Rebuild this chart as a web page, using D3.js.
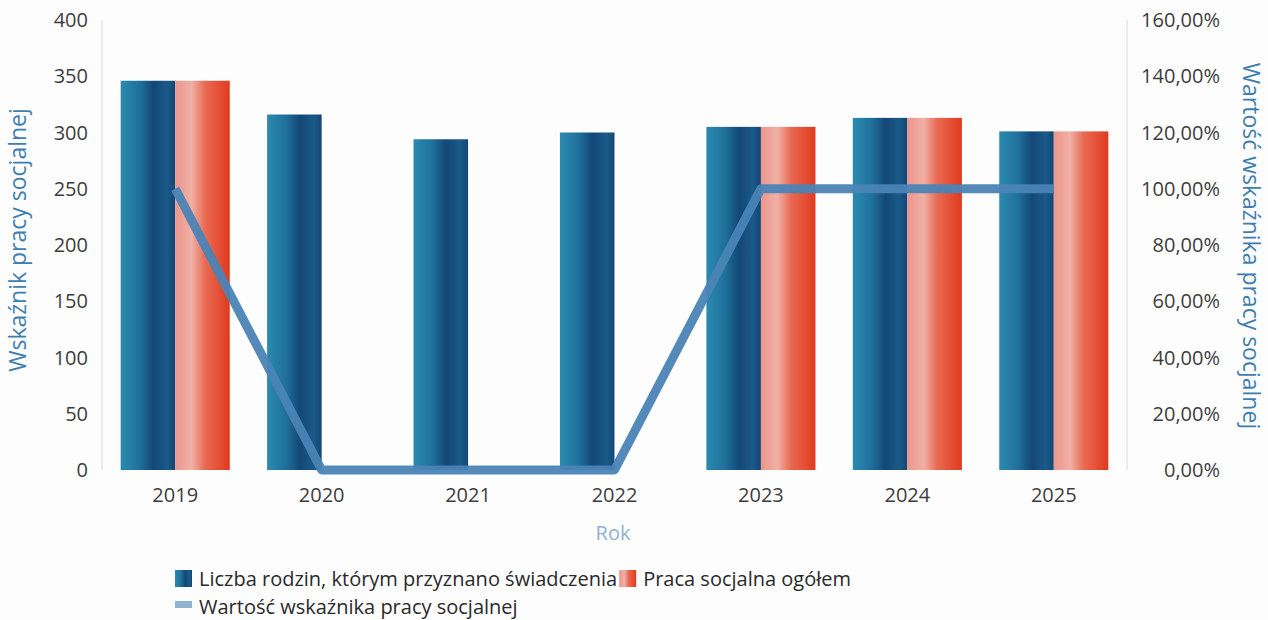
<!DOCTYPE html>
<html>
<head>
<meta charset="utf-8">
<script src="https://cdn.jsdelivr.net/npm/d3@7"></script>
<style>
  html, body { margin: 0; padding: 0; background: #fdfdfe; }
  svg { display: block; font-family: "Open Sans", "Noto Sans", sans-serif; }
</style>
</head>
<body>
<svg id="chart" width="1268" height="620"></svg>
<script>
// --- dane ---
const years = ["2019","2020","2021","2022","2023","2024","2025"];
const rodziny = [346, 316, 294, 300, 305, 313, 301];
const praca = [346, 0, 0, 0, 305, 313, 301];
const wskaznik = [1.0, 0, 0, 0, 1.0, 1.0, 1.0];
const leftTicks = [0, 50, 100, 150, 200, 250, 300, 350, 400];
const rightTicks = [0, 0.2, 0.4, 0.6, 0.8, 1.0, 1.2, 1.4, 1.6];
const seriesNames = ["Liczba rodzin, którym przyznano świadczenia", "Praca socjalna ogółem", "Wartość wskaźnika pracy socjalnej"];

const svg = d3.select("#chart");
const m = { left: 102, right: 1127, top: 20, bottom: 470 };

const x = d3.scaleBand().domain(years).range([m.left, m.right]).paddingInner(0.255).paddingOuter(0.1275);
const y = d3.scaleLinear().domain([0, 400]).range([m.bottom, m.top]);
const y2 = d3.scaleLinear().domain([0, 1.6]).range([m.bottom, m.top]);
const bw = x.bandwidth() / 2;

// gradienty (efekt "walca" z oryginału)
const defs = svg.append("defs");
const gBlue = defs.append("linearGradient").attr("id", "gBlue");
[["0%", "#2b8ab0"], ["35%", "#1f709a"], ["60%", "#134777"], ["85%", "#1a5a88"], ["100%", "#134676"]]
  .forEach(([o, c]) => gBlue.append("stop").attr("offset", o).attr("stop-color", c));
const gRed = defs.append("linearGradient").attr("id", "gRed");
[["0%", "#ec968b"], ["30%", "#f0b0a6"], ["55%", "#e86a52"], ["100%", "#e03a1e"]]
  .forEach(([o, c]) => gRed.append("stop").attr("offset", o).attr("stop-color", c));

// osie pionowe (delikatne linie)
[m.left, m.right].forEach(xx => svg.append("line")
  .attr("x1", xx).attr("x2", xx).attr("y1", m.top).attr("y2", m.bottom)
  .attr("stroke", "#d6dbe2").attr("stroke-width", 1));

// słupki
svg.append("g").selectAll("rect").data(years).join("rect")
  .attr("x", d => x(d)).attr("width", bw)
  .attr("y", (d, i) => y(rodziny[i])).attr("height", (d, i) => y(0) - y(rodziny[i]))
  .attr("fill", "url(#gBlue)");
svg.append("g").selectAll("rect").data(years).join("rect")
  .attr("x", d => x(d) + bw).attr("width", bw)
  .attr("y", (d, i) => y(praca[i])).attr("height", (d, i) => y(0) - y(praca[i]))
  .attr("fill", "url(#gRed)");

// linia wskaźnika
const line = d3.line().x((d, i) => x(years[i]) + bw).y(d => y2(d));
svg.append("path").datum(wskaznik).attr("d", line)
  .attr("fill", "none").attr("stroke", "#4a84b6").attr("stroke-width", 9)
  .attr("stroke-linejoin", "round").attr("stroke-opacity", 0.95);

// etykiety osi lewej
svg.append("g").selectAll("text").data(leftTicks).join("text")
  .attr("x", 88).attr("y", d => y(d)).attr("dy", "0.35em")
  .attr("text-anchor", "end").attr("font-size", 20).attr("fill", "#3d3d3d")
  .text(d => d);

// etykiety osi prawej
const fmt = d => d3.format(".2f")(d * 100).replace(".", ",") + "%";
svg.append("g").selectAll("text").data(rightTicks).join("text")
  .attr("x", 1220).attr("y", d => y2(d)).attr("dy", "0.35em")
  .attr("text-anchor", "end").attr("font-size", 20).attr("fill", "#3d3d3d")
  .text(fmt);

// etykiety lat
svg.append("g").selectAll("text").data(years).join("text")
  .attr("x", d => x(d) + bw).attr("y", 502)
  .attr("text-anchor", "middle").attr("font-size", 20).attr("fill", "#3d3d3d")
  .text(d => d);

// tytuły osi
svg.append("text").attr("transform", "translate(26,240) rotate(-90)")
  .attr("text-anchor", "middle").attr("font-size", 23).attr("fill", "#3f7fb0")
  .text("Wskaźnik pracy socjalnej");
svg.append("text").attr("transform", "translate(1243,246) rotate(90)")
  .attr("text-anchor", "middle").attr("font-size", 23).attr("fill", "#3f7fb0")
  .text("Wartość wskaźnika pracy socjalnej");
svg.append("text").attr("x", 613).attr("y", 540)
  .attr("text-anchor", "middle").attr("font-size", 20).attr("fill", "#8fb2cf")
  .text("Rok");

// legenda
const lg = svg.append("g").attr("font-size", 20).attr("fill", "#2a2a2a");
lg.append("rect").attr("x", 175).attr("y", 570).attr("width", 17).attr("height", 17).attr("fill", "url(#gBlue)");
const t1 = lg.append("text").attr("x", 199).attr("y", 586).text(seriesNames[0]);
const w1 = t1.node().getComputedTextLength();
lg.append("rect").attr("x", 199 + w1 + 2).attr("y", 570).attr("width", 17).attr("height", 17).attr("fill", "url(#gRed)");
lg.append("text").attr("x", 199 + w1 + 26).attr("y", 586).text(seriesNames[1]);
lg.append("rect").attr("x", 175).attr("y", 601).attr("width", 17).attr("height", 7).attr("fill", "#8fb2cf");
lg.append("text").attr("x", 199).attr("y", 614).text(seriesNames[2]);
</script>
</body>
</html>
